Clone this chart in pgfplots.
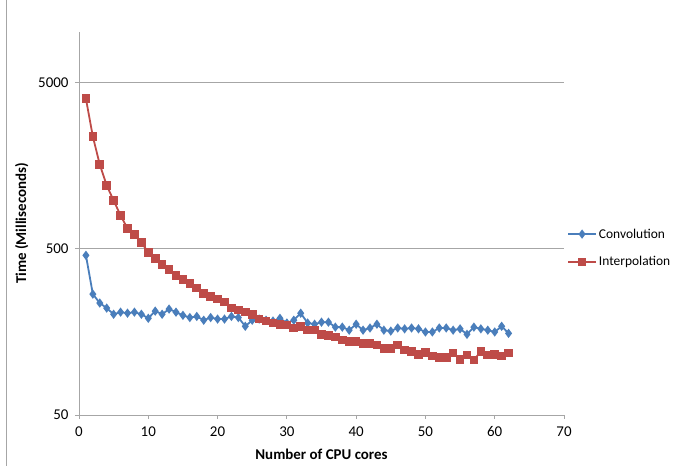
\documentclass[border=0pt]{standalone}
\usepackage{fontspec}
\setmainfont{Carlito}
\usepackage{pgfplots}
\pgfplotsset{compat=1.18}
\definecolor{convblue}{HTML}{4A7EBB}
\definecolor{interpred}{HTML}{BE4B48}
\definecolor{axgray}{HTML}{A6A6A6}

\begin{document}
\begin{tikzpicture}
\begin{axis}[
  scale only axis, width=485bp, height=383bp,
  xmin=0, xmax=70, xtick={0,10,...,70},
  ymode=log, ymin=50, ymax=10100, ytick={50,500,5000},
  log ticks with fixed point, yminorticks=false,
  /pgf/number format/assume math mode=true,
  /pgf/number format/1000 sep={},
  separate axis lines,
  axis x line*=bottom, axis y line*=left,
  axis line style={draw=axgray, -},
  tick align=outside, major tick length=4bp,
  tick style={axgray, line width=0.8pt},
  ymajorgrids, grid style={axgray, line width=0.8pt},
  ticklabel style={font=\fontsize{15}{18}\selectfont, text=black},
  xticklabel style={yshift=-4bp},
  yticklabel style={xshift=-3bp},
  xlabel={\bfseries Number of CPU cores},
  ylabel={\bfseries Time (Milliseconds)},
  label style={font=\fontsize{15}{18}\selectfont},
  xlabel style={yshift=-5bp},
  ylabel style={yshift=3bp},
  legend style={at={(1.0,0.436)}, anchor=west, draw=none, fill=none,
    font=\fontsize{13.5}{16}\selectfont, row sep=13bp},
  legend cell align=left,
  legend image code/.code={\draw[mark repeat=2,mark phase=2] plot coordinates {(0bp,0bp) (14bp,0bp) (28bp,0bp)};},
]
\addplot[convblue, line width=1.8bp, mark=diamond*, mark size=3.2bp, mark options={solid}] coordinates {
(1,457) (2,267) (3,236) (4,220) (5,202) (6,208) (7,205) (8,208) (9,202) (10,191)
(11,211) (12,202) (13,217) (14,208) (15,199) (16,193) (17,196) (18,186) (19,193) (20,189)
(21,189) (22,196) (23,193) (24,171) (25,186) (26,189) (27,186) (28,184) (29,191) (30,179)
(31,186) (32,205) (33,179) (34,176) (35,181) (36,181) (37,169) (38,169) (39,162) (40,176)
(41,162) (42,167) (43,176) (44,162) (45,160) (46,167) (47,165) (48,167) (49,165) (50,158)
(51,158) (52,167) (53,167) (54,162) (55,165) (56,153) (57,169) (58,165) (59,162) (60,158)
(61,171) (62,155)
};
\addlegendentry{Convolution}
\addplot[interpred, line width=1.8bp, mark=square*, mark size=3.4bp, mark options={solid}] coordinates {
(1,4010) (2,2370) (3,1609) (4,1203) (5,978) (6,794) (7,664) (8,611) (9,547) (10,476)
(11,438) (12,403) (13,376) (14,347) (15,328) (16,310) (17,290) (18,270) (19,259) (20,249)
(21,239) (22,220) (23,214) (24,208) (25,202) (26,189) (27,184) (28,179) (29,176) (30,174)
(31,167) (32,171) (33,162) (34,162) (35,153) (36,150) (37,147) (38,141) (39,138) (40,138)
(41,135) (42,135) (43,132) (44,126) (45,126) (46,132) (47,123) (48,121) (49,116) (50,119)
(51,113) (52,111) (53,111) (54,118) (55,108) (56,115) (57,107) (58,121) (59,115) (60,116)
(61,113) (62,118)
};
\addlegendentry{Interpolation}
\end{axis}
\draw[axgray] (-73bp,-51bp) -- (-73bp,415bp);
\pgfresetboundingbox
\useasboundingbox (-79bp,-51bp) rectangle (594bp,415bp);
\end{tikzpicture}
\end{document}
